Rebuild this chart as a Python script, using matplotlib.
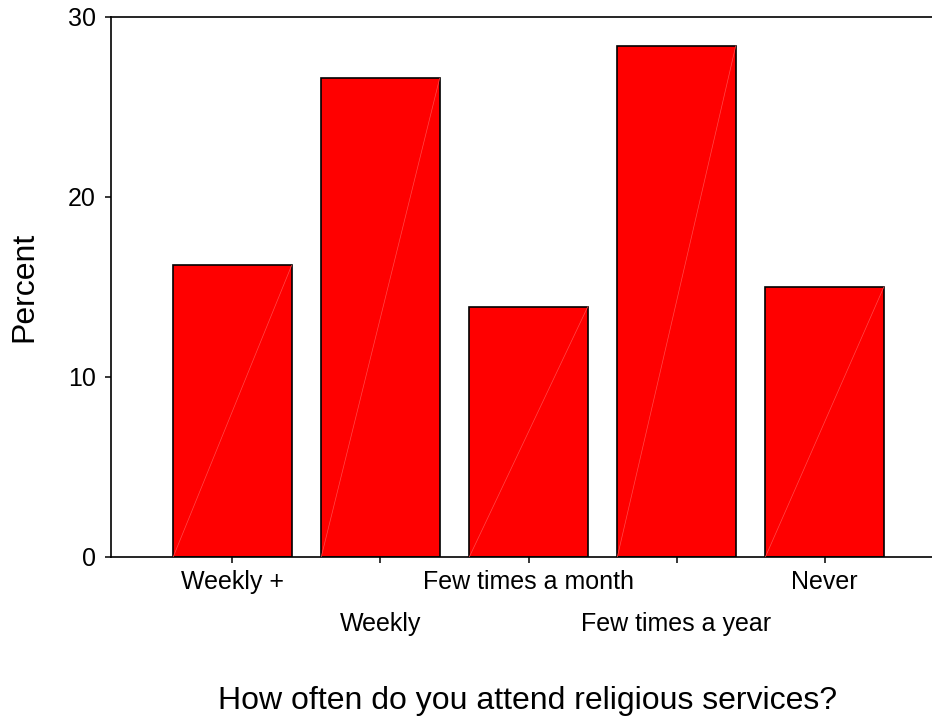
import numpy as np
import matplotlib.pyplot as plt

plt.rcParams['font.family'] = ['Liberation Sans', 'DejaVu Sans']

categories = ['Weekly +', 'Weekly', 'Few times a month', 'Few times a year', 'Never']
percent = [16.2, 26.6, 13.9, 28.4, 15.0]

fig = plt.figure(figsize=(9.32, 7.17), dpi=100)
ax = fig.add_axes([111 / 932, 1 - 557 / 717, 835 / 932, 540 / 717])

x = np.arange(len(categories))
width = 0.8
ax.bar(x, percent, width=width, color='#ff0000', edgecolor='black', linewidth=1.2, zorder=2)

# faint diagonal streak seen in the original rendering
for xi, h in zip(x, percent):
    ax.plot([xi - width / 2, xi + width / 2], [0, h], color='#ff4a4a', linewidth=0.5, zorder=3)

ax.set_xlim(-0.82, 4.82)
ax.set_ylim(0, 30)
ax.set_yticks([0, 10, 20, 30])
ax.set_xticks(x)
ax.set_xticklabels(categories)

ax.spines['right'].set_visible(False)
for s in ['left', 'bottom', 'top']:
    ax.spines[s].set_linewidth(1.2)

ax.tick_params(axis='both', direction='out', length=4.5, width=1.1, labelsize=18)
ax.tick_params(axis='y', pad=6.5)
ax.tick_params(axis='x', pad=4.9)
for tick in ax.xaxis.get_major_ticks()[1::2]:
    tick.set_pad(34.9)

ax.set_ylabel('Percent', fontsize=23)
ax.yaxis.set_label_coords(-72 / 835, 0.5)
ax.set_xlabel('How often do you attend religious services?', fontsize=23)
ax.xaxis.set_label_coords(417 / 835, -129 / 540)

fig.savefig('out.png', dpi=100)
